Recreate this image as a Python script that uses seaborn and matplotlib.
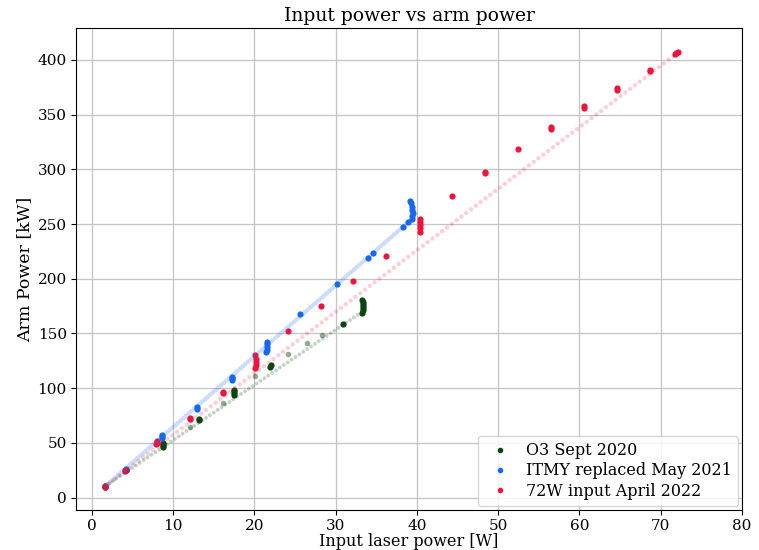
import matplotlib
matplotlib.use("Agg")
import matplotlib.pyplot as plt
import seaborn as sns
import pandas as pd

# ---------------- data ----------------
# O3 Sept 2020 (dark green)
green_x = [1.6, 1.65, 4.2, 4.25, 8.72, 8.75, 8.78, 8.8, 13.2, 13.25,
           17.45, 17.5, 17.5, 17.5, 21.95, 22.0, 30.9,
           33.3, 33.35, 33.4, 33.4, 33.4, 33.35, 33.3]
green_y = [9.5, 10.3, 24.8, 25.6, 46.0, 47.5, 49.0, 50.0, 70.6, 72.0,
           93.8, 95.5, 97.0, 98.3, 119.6, 121.0, 159.0,
           169.0, 171.0, 173.0, 175.0, 177.0, 179.0, 180.5]
green_mid_x = [12.1, 16.1, 20.1, 24.2, 26.5, 28.3]
green_mid_y = [64.7, 86.7, 111.0, 131.0, 141.5, 149.0]
green_ramp_x = [1.6, 33.3]
green_ramp_y = [10.0, 170.0]

# ITMY replaced May 2021 (blue)
blue_x = [1.6, 4.2, 8.6, 8.6, 8.62, 12.9, 12.9,
          17.2, 17.25, 17.3, 21.4, 21.5, 21.55, 21.6, 21.6,
          25.65, 30.2, 33.95, 34.6, 38.3, 38.9,
          39.35, 39.45, 39.5, 39.45, 39.4, 39.3, 39.2]
blue_y = [10.0, 26.0, 54.5, 56.0, 57.0, 81.0, 82.5,
          107.5, 109.0, 110.5, 133.0, 135.0, 137.5, 140.0, 142.5,
          167.7, 195.0, 219.0, 224.0, 247.0, 252.0,
          254.5, 257.0, 260.0, 263.0, 266.0, 269.0, 271.5]
blue_ramp_x = [1.6, 39.3]
blue_ramp_y = [10.0, 254.0]

# 72W input April 2022 (red)
red_x = [1.6, 1.65, 4.1, 4.15, 7.95, 8.0, 8.0, 12.05, 12.1, 16.1, 16.1,
         20.1, 20.15, 20.15, 20.15, 20.1, 24.2, 28.2, 32.2, 36.2,
         40.35, 40.4, 40.4, 40.4, 40.35, 44.3, 48.4, 48.4, 52.4,
         56.5, 56.5, 60.5, 60.55, 64.6, 64.6, 68.7, 68.7, 71.7, 71.9, 72.1]
red_y = [9.5, 10.5, 24.5, 25.5, 48.5, 50.0, 51.5, 71.5, 72.5, 95.5, 96.5,
         118.0, 121.0, 124.0, 127.0, 130.0, 152.5, 175.3, 198.0, 220.7,
         243.0, 246.0, 249.0, 252.0, 255.0, 275.6, 296.5, 298.0, 318.3,
         337.0, 338.5, 356.0, 357.5, 372.5, 374.0, 389.5, 391.0, 405.5, 406.5, 407.0]
red_ramp_x = [1.6, 72.0]
red_ramp_y = [10.0, 406.0]

labels = ["O3 Sept 2020", "ITMY replaced May 2021", "72W input April 2022"]
colors = ["#0b460f", "#1668ee", "#f0143c"]

# ---------------- plot ----------------
plt.rcParams["font.family"] = ["DejaVu Serif"]
fig = plt.figure(figsize=(7.59, 5.5), dpi=100)
ax = fig.add_axes([0.100, 0.0727, 0.8776, 0.8763])
ax.grid(True, color="#c4c4c4", linewidth=0.9)
ax.set_axisbelow(True)

ramps = [(green_ramp_x, green_ramp_y, colors[0], 0.24, 2.8, (0, (0.01, 1.2))),
         (blue_ramp_x, blue_ramp_y, colors[1], 0.22, 3.4, (0, (0.01, 0.75))),
         (red_ramp_x, red_ramp_y, colors[2], 0.2, 3.2, (0, (0.01, 1.35)))]
for rx, ry, c, a, lw, ls in ramps:
    sns.lineplot(x=rx, y=ry, ax=ax, color=c, alpha=a, linewidth=lw,
                 linestyle=ls, dash_capstyle="round", estimator=None,
                 sort=False, label="_nolegend_", legend=False)

sns.scatterplot(x=green_mid_x, y=green_mid_y, ax=ax, color=colors[0],
                alpha=0.45, s=16, linewidth=0, legend=False)

handles = []
for xs, ys, c, lab in [(green_x, green_y, colors[0], labels[0]),
                       (blue_x, blue_y, colors[1], labels[1]),
                       (red_x, red_y, colors[2], labels[2])]:
    df = pd.DataFrame({"x": xs, "y": ys})
    sns.scatterplot(data=df, x="x", y="y", ax=ax, color=c, s=20,
                    linewidth=0, legend=False)
    handles.append(plt.Line2D([], [], linestyle="none", marker="o",
                              markersize=3, color=c, label=lab))

ax.set_xlim(-1.95, 80)
ax.set_ylim(-11.4, 429.2)
ax.set_xticks(range(0, 81, 10))
ax.set_yticks(range(0, 401, 50))
ax.tick_params(labelsize=11, pad=3)
ax.set_xlabel("Input laser power [W]", fontsize=11.5, labelpad=0)
ax.set_ylabel("Arm Power [kW]", fontsize=12.5, labelpad=3)
ax.set_title("Input power vs arm power", fontsize=13.5, pad=5)

ax.legend(handles=handles, loc="lower right", fontsize=11.5,
          handletextpad=0.6, borderpad=0.4, labelspacing=0.2,
          handlelength=2.0, borderaxespad=0.25)

fig.savefig("out.png", dpi=100)
